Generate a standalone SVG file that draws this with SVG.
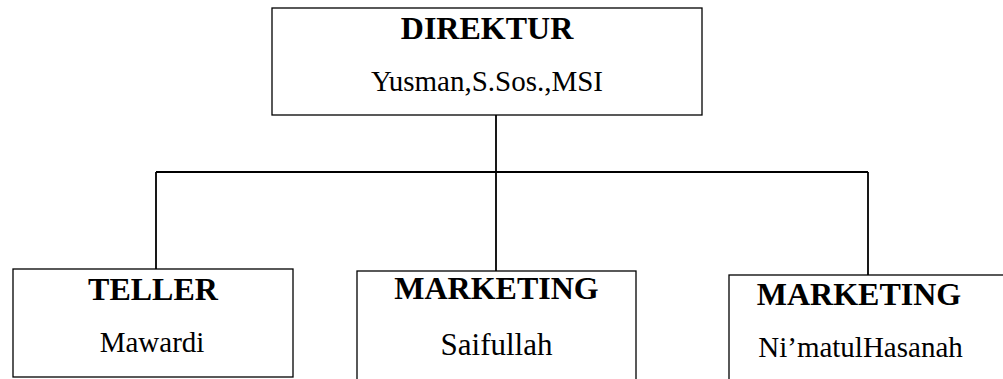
<svg xmlns="http://www.w3.org/2000/svg" width="1003" height="379" viewBox="0 0 1003 379">
<style>
.box{fill:#fff;stroke:#000;stroke-width:1.3}
.t{font-family:"Liberation Serif","Times New Roman",serif;font-weight:bold;font-size:32px;text-anchor:middle;fill:#000}
.n{font-family:"Liberation Serif","Times New Roman",serif;font-size:29px;text-anchor:middle;fill:#000}
.c{fill:none;stroke:#000;stroke-width:1.8}
</style>
<rect width="1003" height="379" fill="#fff"/>
<g id="connectors">
<path class="c" d="M496 115V271M156 172H868M156 172V269M868 172V275"/>
</g>
<g id="direktur">
<rect class="box" x="272" y="8" width="430" height="107"/>
<text class="t" x="487" y="39">DIREKTUR</text>
<text class="n" x="487" y="91">Yusman,S.Sos.,MSI</text>
</g>
<g id="teller">
<rect class="box" x="13" y="269" width="280" height="108"/>
<text class="t" x="153" y="300">TELLER</text>
<text class="n" x="152" y="352">Mawardi</text>
</g>
<g id="marketing1">
<rect class="box" x="357" y="271" width="279" height="120"/>
<text class="t" x="496.5" y="299">MARKETING</text>
<text class="n" x="496.5" y="355" style="font-size:31px">Saifullah</text>
</g>
<g id="marketing2">
<rect class="box" x="729" y="275" width="290" height="120"/>
<text class="t" x="859" y="305">MARKETING</text>
<text class="n" x="860.5" y="357">Ni’matulHasanah</text>
</g>
</svg>
